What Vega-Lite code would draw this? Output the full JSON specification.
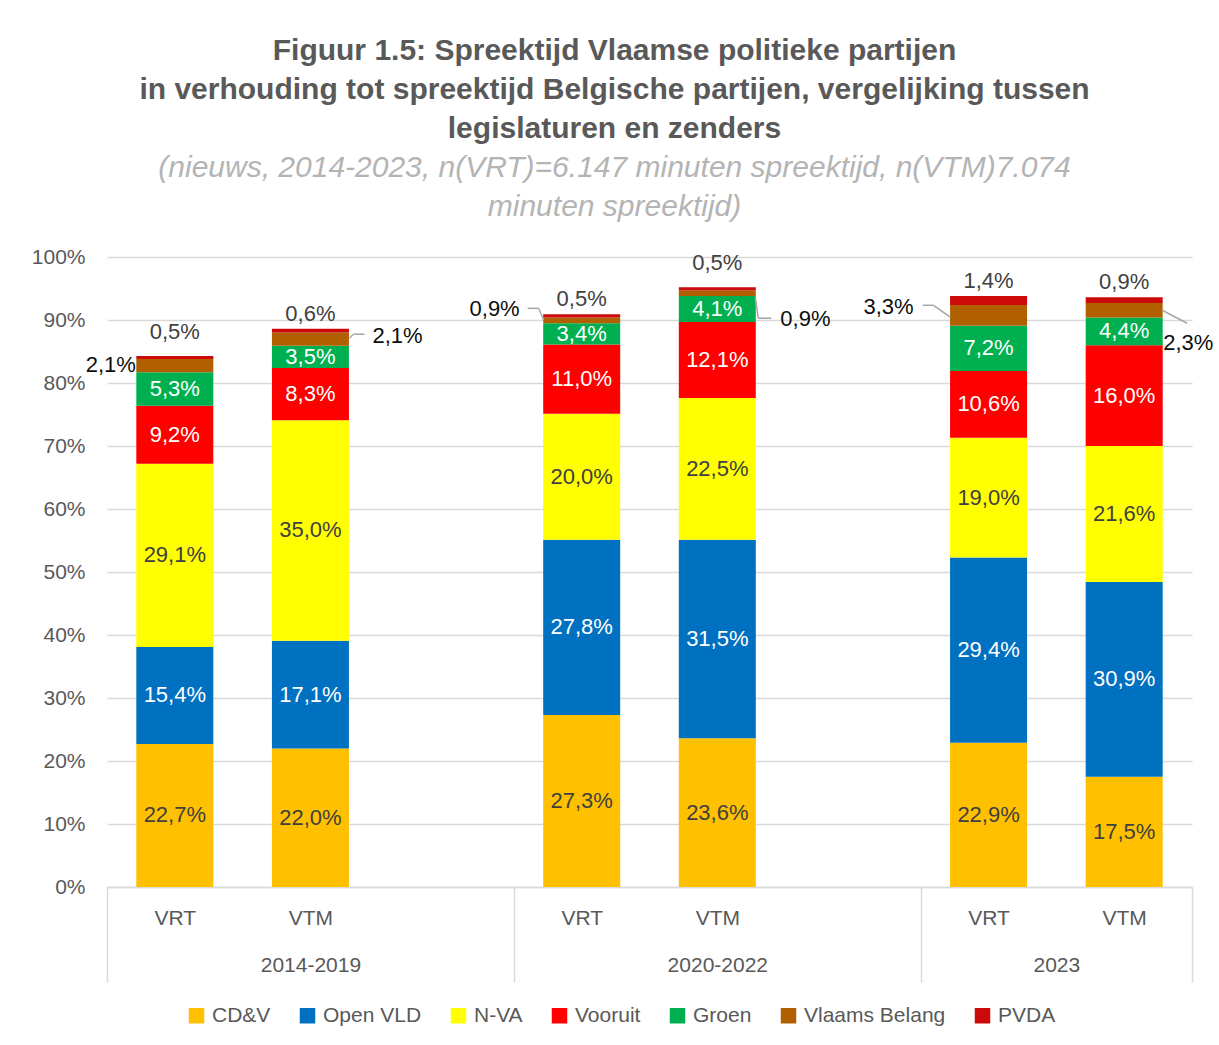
{
  "$schema": "https://vega.github.io/schema/vega-lite/v6.json",
  "autosize": {"type": "none"},
  "width": 1085,
  "height": 630,
  "padding": {"left": 107, "top": 257, "right": 27, "bottom": 158},
  "background": "white",
  "config": {
    "view": {"stroke": null},
    "font": "Liberation Sans",
    "scale": {"continuousPadding": 0},
    "text": {"font": "Liberation Sans", "fontSize": 22, "baseline": "middle"}
  },
  "title": {
    "text": ["Figuur 1.5: Spreektijd Vlaamse politieke partijen", "in verhouding tot spreektijd Belgische partijen, vergelijking tussen", "legislaturen en zenders"],
    "subtitle": ["(nieuws, 2014-2023, n(VRT)=6.147 minuten spreektijd, n(VTM)7.074", "minuten spreektijd)"],
    "anchor": "middle",
    "dx": -35,
    "offset": 24,
    "font": "Liberation Sans",
    "fontSize": 30,
    "fontWeight": "bold",
    "color": "#595959",
    "lineHeight": 39,
    "subtitleFont": "Liberation Sans",
    "subtitleFontSize": 30,
    "subtitleFontStyle": "italic",
    "subtitleColor": "#b4b4b4",
    "subtitleLineHeight": 39,
    "subtitlePadding": 9
  },
  "data": {
    "values": [
      {"period": "2014-2019", "channel": "VRT", "party": "CD&V", "pct": 22.7},
      {"period": "2014-2019", "channel": "VRT", "party": "Open VLD", "pct": 15.4},
      {"period": "2014-2019", "channel": "VRT", "party": "N-VA", "pct": 29.1},
      {"period": "2014-2019", "channel": "VRT", "party": "Vooruit", "pct": 9.2},
      {"period": "2014-2019", "channel": "VRT", "party": "Groen", "pct": 5.3},
      {"period": "2014-2019", "channel": "VRT", "party": "Vlaams Belang", "pct": 2.1},
      {"period": "2014-2019", "channel": "VRT", "party": "PVDA", "pct": 0.5},
      {"period": "2014-2019", "channel": "VTM", "party": "CD&V", "pct": 22.0},
      {"period": "2014-2019", "channel": "VTM", "party": "Open VLD", "pct": 17.1},
      {"period": "2014-2019", "channel": "VTM", "party": "N-VA", "pct": 35.0},
      {"period": "2014-2019", "channel": "VTM", "party": "Vooruit", "pct": 8.3},
      {"period": "2014-2019", "channel": "VTM", "party": "Groen", "pct": 3.5},
      {"period": "2014-2019", "channel": "VTM", "party": "Vlaams Belang", "pct": 2.1},
      {"period": "2014-2019", "channel": "VTM", "party": "PVDA", "pct": 0.6},
      {"period": "2020-2022", "channel": "VRT", "party": "CD&V", "pct": 27.3},
      {"period": "2020-2022", "channel": "VRT", "party": "Open VLD", "pct": 27.8},
      {"period": "2020-2022", "channel": "VRT", "party": "N-VA", "pct": 20.0},
      {"period": "2020-2022", "channel": "VRT", "party": "Vooruit", "pct": 11.0},
      {"period": "2020-2022", "channel": "VRT", "party": "Groen", "pct": 3.4},
      {"period": "2020-2022", "channel": "VRT", "party": "Vlaams Belang", "pct": 0.9},
      {"period": "2020-2022", "channel": "VRT", "party": "PVDA", "pct": 0.5},
      {"period": "2020-2022", "channel": "VTM", "party": "CD&V", "pct": 23.6},
      {"period": "2020-2022", "channel": "VTM", "party": "Open VLD", "pct": 31.5},
      {"period": "2020-2022", "channel": "VTM", "party": "N-VA", "pct": 22.5},
      {"period": "2020-2022", "channel": "VTM", "party": "Vooruit", "pct": 12.1},
      {"period": "2020-2022", "channel": "VTM", "party": "Groen", "pct": 4.1},
      {"period": "2020-2022", "channel": "VTM", "party": "Vlaams Belang", "pct": 0.9},
      {"period": "2020-2022", "channel": "VTM", "party": "PVDA", "pct": 0.5},
      {"period": "2023", "channel": "VRT", "party": "CD&V", "pct": 22.9},
      {"period": "2023", "channel": "VRT", "party": "Open VLD", "pct": 29.4},
      {"period": "2023", "channel": "VRT", "party": "N-VA", "pct": 19.0},
      {"period": "2023", "channel": "VRT", "party": "Vooruit", "pct": 10.6},
      {"period": "2023", "channel": "VRT", "party": "Groen", "pct": 7.2},
      {"period": "2023", "channel": "VRT", "party": "Vlaams Belang", "pct": 3.3},
      {"period": "2023", "channel": "VRT", "party": "PVDA", "pct": 1.4},
      {"period": "2023", "channel": "VTM", "party": "CD&V", "pct": 17.5},
      {"period": "2023", "channel": "VTM", "party": "Open VLD", "pct": 30.9},
      {"period": "2023", "channel": "VTM", "party": "N-VA", "pct": 21.6},
      {"period": "2023", "channel": "VTM", "party": "Vooruit", "pct": 16.0},
      {"period": "2023", "channel": "VTM", "party": "Groen", "pct": 4.4},
      {"period": "2023", "channel": "VTM", "party": "Vlaams Belang", "pct": 2.3},
      {"period": "2023", "channel": "VTM", "party": "PVDA", "pct": 0.9}
    ]
  },
  "transform": [
    {"calculate": "(datum.period === '2014-2019' ? 0 : datum.period === '2020-2022' ? 3 : 6) + (datum.channel === 'VTM' ? 1 : 0) + 0.5", "as": "slot"},
    {"calculate": "indexof(['CD&V','Open VLD','N-VA','Vooruit','Groen','Vlaams Belang','PVDA'], datum.party)", "as": "ord"},
    {"stack": "pct", "groupby": ["period", "channel"], "sort": [{"field": "ord", "order": "ascending"}], "as": ["y0", "y1"]},
    {"calculate": "(datum.y0 + datum.y1) / 2", "as": "mid"},
    {"calculate": "replace(format(datum.pct, '.1f'), '.', ',') + '%'", "as": "label"},
    {"calculate": "datum.period + ' ' + datum.channel", "as": "key"}
  ],
  "resolve": {"axis": {"x": "independent"}},
  "layer": [
    {
      "mark": {"type": "bar", "width": 77},
      "encoding": {
        "x": {"field": "slot", "type": "quantitative", "scale": {"domain": [0, 8], "nice": false, "zero": false, "padding": 0},
          "axis": {"orient": "bottom", "title": null, "values": [0.5, 1.5, 3.5, 4.5, 6.5, 7.5],
            "labelExpr": "indexof([1.5, 4.5, 7.5], datum.value) >= 0 ? 'VTM' : 'VRT'",
            "ticks": false, "grid": false, "domain": true, "domainColor": "#d9d9d9", "domainWidth": 1.5,
            "labelPadding": 20, "labelFontSize": 21, "labelColor": "#595959", "labelFont": "Liberation Sans", "labelFlush": false, "labelOverlap": false}},
        "y": {"field": "y1", "type": "quantitative", "scale": {"domain": [0, 100], "nice": false},
          "axis": {"title": null, "values": [0, 10, 20, 30, 40, 50, 60, 70, 80, 90, 100], "labelExpr": "datum.value + '%'",
            "grid": true, "gridColor": "#d9d9d9", "gridWidth": 1.5, "domain": false, "ticks": false,
            "labelPadding": 22, "labelFontSize": 21, "labelColor": "#595959", "labelFont": "Liberation Sans"}},
        "y2": {"field": "y0"},
        "color": {"field": "party", "type": "nominal",
          "scale": {"domain": ["CD&V", "Open VLD", "N-VA", "Vooruit", "Groen", "Vlaams Belang", "PVDA"],
            "range": ["#FFC000", "#0070C0", "#FFFF00", "#FF0000", "#00B050", "#B06000", "#CC0A0A"]},
          "legend": {"orient": "none", "legendX": 79, "legendY": 748, "direction": "horizontal", "title": null,
            "symbolType": "square", "symbolSize": 240, "symbolStrokeWidth": 0, "labelFontSize": 21, "labelColor": "#595959",
            "labelFont": "Liberation Sans", "columnPadding": 26, "labelOffset": 5}}
      }
    },
    {
      "transform": [{"filter": "datum.party === 'CD&V' || datum.party === 'N-VA'"}],
      "mark": {"type": "text", "color": "#404040"},
      "encoding": {
        "x": {"field": "slot", "type": "quantitative", "scale": {"domain": [0, 8], "nice": false, "zero": false, "padding": 0},
          "axis": {"orient": "bottom", "title": null, "values": [0, 3, 6, 8], "labels": false, "ticks": true, "tickSize": 95,
            "tickColor": "#d9d9d9", "tickWidth": 1.5, "domain": false, "grid": false}},
        "y": {"field": "mid", "type": "quantitative", "scale": {"domain": [0, 100], "nice": false}, "title": null},
        "text": {"field": "label"}
      }
    },
    {
      "transform": [{"filter": "datum.party === 'Open VLD' || datum.party === 'Vooruit' || datum.party === 'Groen'"}],
      "mark": {"type": "text", "color": "white"},
      "encoding": {
        "x": {"field": "slot", "type": "quantitative", "scale": {"domain": [0, 8], "nice": false, "zero": false, "padding": 0},
          "axis": {"orient": "bottom", "title": null, "values": [1.5, 4.5, 7],
            "labelExpr": "datum.value === 1.5 ? '2014-2019' : datum.value === 4.5 ? '2020-2022' : '2023'",
            "ticks": false, "domain": false, "grid": false, "labelPadding": 67, "labelFontSize": 21, "labelColor": "#595959",
            "labelFont": "Liberation Sans", "labelFlush": false, "labelOverlap": false}},
        "y": {"field": "mid", "type": "quantitative", "scale": {"domain": [0, 100], "nice": false}, "title": null},
        "text": {"field": "label"}
      }
    },
    {
      "transform": [{"filter": "datum.party === 'PVDA' && (datum.key === '2014-2019 VRT' || datum.key === '2020-2022 VTM')"}],
      "mark": {"type": "text", "color": "#404040", "dy": -24},
      "encoding": {
        "x": {"field": "slot", "type": "quantitative", "scale": {"domain": [0, 8], "nice": false, "zero": false, "padding": 0}, "axis": null},
        "y": {"field": "y1", "type": "quantitative", "scale": {"domain": [0, 100], "nice": false}, "title": null},
        "text": {"field": "label"}
      }
    },
    {
      "transform": [{"filter": "datum.party === 'PVDA' && datum.key !== '2014-2019 VRT' && datum.key !== '2020-2022 VTM'"}],
      "mark": {"type": "text", "color": "#404040", "dy": -15},
      "encoding": {
        "x": {"field": "slot", "type": "quantitative", "scale": {"domain": [0, 8], "nice": false, "zero": false, "padding": 0}, "axis": null},
        "y": {"field": "y1", "type": "quantitative", "scale": {"domain": [0, 100], "nice": false}, "title": null},
        "text": {"field": "label"}
      }
    },
    {
      "transform": [{"filter": "datum.party === 'Vlaams Belang' && datum.key === '2014-2019 VRT'"}],
      "mark": {"type": "text", "color": "#0d0d0d", "align": "right", "dx": -39, "dy": -1},
      "encoding": {
        "x": {"field": "slot", "type": "quantitative", "scale": {"domain": [0, 8], "nice": false, "zero": false, "padding": 0}, "axis": null},
        "y": {"field": "mid", "type": "quantitative", "scale": {"domain": [0, 100], "nice": false}, "title": null},
        "text": {"field": "label"}
      }
    },
    {
      "transform": [{"filter": "datum.party === 'Vlaams Belang' && datum.key === '2014-2019 VTM'"}],
      "mark": {"type": "text", "color": "#0d0d0d", "align": "left", "dx": 62, "dy": -3},
      "encoding": {
        "x": {"field": "slot", "type": "quantitative", "scale": {"domain": [0, 8], "nice": false, "zero": false, "padding": 0}, "axis": null},
        "y": {"field": "mid", "type": "quantitative", "scale": {"domain": [0, 100], "nice": false}, "title": null},
        "text": {"field": "label"}
      }
    },
    {
      "transform": [{"filter": "datum.party === 'Vlaams Belang' && datum.key === '2020-2022 VRT'"}],
      "mark": {"type": "text", "color": "#0d0d0d", "align": "right", "dx": -62, "dy": -11},
      "encoding": {
        "x": {"field": "slot", "type": "quantitative", "scale": {"domain": [0, 8], "nice": false, "zero": false, "padding": 0}, "axis": null},
        "y": {"field": "mid", "type": "quantitative", "scale": {"domain": [0, 100], "nice": false}, "title": null},
        "text": {"field": "label"}
      }
    },
    {
      "transform": [{"filter": "datum.party === 'Vlaams Belang' && datum.key === '2020-2022 VTM'"}],
      "mark": {"type": "text", "color": "#0d0d0d", "align": "left", "dx": 63, "dy": 26},
      "encoding": {
        "x": {"field": "slot", "type": "quantitative", "scale": {"domain": [0, 8], "nice": false, "zero": false, "padding": 0}, "axis": null},
        "y": {"field": "mid", "type": "quantitative", "scale": {"domain": [0, 100], "nice": false}, "title": null},
        "text": {"field": "label"}
      }
    },
    {
      "transform": [{"filter": "datum.party === 'Vlaams Belang' && datum.key === '2023 VRT'"}],
      "mark": {"type": "text", "color": "#0d0d0d", "align": "right", "dx": -75, "dy": -8},
      "encoding": {
        "x": {"field": "slot", "type": "quantitative", "scale": {"domain": [0, 8], "nice": false, "zero": false, "padding": 0}, "axis": null},
        "y": {"field": "mid", "type": "quantitative", "scale": {"domain": [0, 100], "nice": false}, "title": null},
        "text": {"field": "label"}
      }
    },
    {
      "transform": [{"filter": "datum.party === 'Vlaams Belang' && datum.key === '2023 VTM'"}],
      "mark": {"type": "text", "color": "#0d0d0d", "align": "left", "dx": 39, "dy": 33},
      "encoding": {
        "x": {"field": "slot", "type": "quantitative", "scale": {"domain": [0, 8], "nice": false, "zero": false, "padding": 0}, "axis": null},
        "y": {"field": "mid", "type": "quantitative", "scale": {"domain": [0, 100], "nice": false}, "title": null},
        "text": {"field": "label"}
      }
    },
    {
      "transform": [{"filter": "datum.party === 'Vlaams Belang' && datum.key === '2014-2019 VTM'"}],
      "mark": {"type": "rule", "color": "#a6a6a6", "strokeWidth": 1.5, "xOffset": 39, "x2Offset": 43, "yOffset": -1, "y2Offset": -5},
      "encoding": {
        "x": {"field": "slot", "type": "quantitative", "scale": {"domain": [0, 8], "nice": false, "zero": false, "padding": 0}, "axis": null},
        "x2": {"field": "slot"},
        "y": {"field": "mid", "type": "quantitative", "scale": {"domain": [0, 100], "nice": false}, "title": null},
        "y2": {"field": "mid"}
      }
    },
    {
      "transform": [{"filter": "datum.party === 'Vlaams Belang' && datum.key === '2014-2019 VTM'"}],
      "mark": {"type": "rule", "color": "#a6a6a6", "strokeWidth": 1.5, "xOffset": 43, "x2Offset": 54, "yOffset": -5, "y2Offset": -5},
      "encoding": {
        "x": {"field": "slot", "type": "quantitative", "scale": {"domain": [0, 8], "nice": false, "zero": false, "padding": 0}, "axis": null},
        "x2": {"field": "slot"},
        "y": {"field": "mid", "type": "quantitative", "scale": {"domain": [0, 100], "nice": false}, "title": null},
        "y2": {"field": "mid"}
      }
    },
    {
      "transform": [{"filter": "datum.party === 'Vlaams Belang' && datum.key === '2020-2022 VRT'"}],
      "mark": {"type": "rule", "color": "#a6a6a6", "strokeWidth": 1.5, "xOffset": -54, "x2Offset": -43, "yOffset": -12, "y2Offset": -12},
      "encoding": {
        "x": {"field": "slot", "type": "quantitative", "scale": {"domain": [0, 8], "nice": false, "zero": false, "padding": 0}, "axis": null},
        "x2": {"field": "slot"},
        "y": {"field": "mid", "type": "quantitative", "scale": {"domain": [0, 100], "nice": false}, "title": null},
        "y2": {"field": "mid"}
      }
    },
    {
      "transform": [{"filter": "datum.party === 'Vlaams Belang' && datum.key === '2020-2022 VRT'"}],
      "mark": {"type": "rule", "color": "#a6a6a6", "strokeWidth": 1.5, "xOffset": -43, "x2Offset": -38, "yOffset": -12, "y2Offset": 0},
      "encoding": {
        "x": {"field": "slot", "type": "quantitative", "scale": {"domain": [0, 8], "nice": false, "zero": false, "padding": 0}, "axis": null},
        "x2": {"field": "slot"},
        "y": {"field": "mid", "type": "quantitative", "scale": {"domain": [0, 100], "nice": false}, "title": null},
        "y2": {"field": "mid"}
      }
    },
    {
      "transform": [{"filter": "datum.party === 'Vlaams Belang' && datum.key === '2020-2022 VTM'"}],
      "mark": {"type": "rule", "color": "#a6a6a6", "strokeWidth": 1.5, "xOffset": 38, "x2Offset": 41, "yOffset": 4, "y2Offset": 25},
      "encoding": {
        "x": {"field": "slot", "type": "quantitative", "scale": {"domain": [0, 8], "nice": false, "zero": false, "padding": 0}, "axis": null},
        "x2": {"field": "slot"},
        "y": {"field": "mid", "type": "quantitative", "scale": {"domain": [0, 100], "nice": false}, "title": null},
        "y2": {"field": "mid"}
      }
    },
    {
      "transform": [{"filter": "datum.party === 'Vlaams Belang' && datum.key === '2020-2022 VTM'"}],
      "mark": {"type": "rule", "color": "#a6a6a6", "strokeWidth": 1.5, "xOffset": 41, "x2Offset": 54, "yOffset": 25, "y2Offset": 25},
      "encoding": {
        "x": {"field": "slot", "type": "quantitative", "scale": {"domain": [0, 8], "nice": false, "zero": false, "padding": 0}, "axis": null},
        "x2": {"field": "slot"},
        "y": {"field": "mid", "type": "quantitative", "scale": {"domain": [0, 100], "nice": false}, "title": null},
        "y2": {"field": "mid"}
      }
    },
    {
      "transform": [{"filter": "datum.party === 'Vlaams Belang' && datum.key === '2023 VRT'"}],
      "mark": {"type": "rule", "color": "#a6a6a6", "strokeWidth": 1.5, "xOffset": -66, "x2Offset": -55, "yOffset": -10, "y2Offset": -10},
      "encoding": {
        "x": {"field": "slot", "type": "quantitative", "scale": {"domain": [0, 8], "nice": false, "zero": false, "padding": 0}, "axis": null},
        "x2": {"field": "slot"},
        "y": {"field": "mid", "type": "quantitative", "scale": {"domain": [0, 100], "nice": false}, "title": null},
        "y2": {"field": "mid"}
      }
    },
    {
      "transform": [{"filter": "datum.party === 'Vlaams Belang' && datum.key === '2023 VRT'"}],
      "mark": {"type": "rule", "color": "#a6a6a6", "strokeWidth": 1.5, "xOffset": -55, "x2Offset": -38, "yOffset": -10, "y2Offset": 2},
      "encoding": {
        "x": {"field": "slot", "type": "quantitative", "scale": {"domain": [0, 8], "nice": false, "zero": false, "padding": 0}, "axis": null},
        "x2": {"field": "slot"},
        "y": {"field": "mid", "type": "quantitative", "scale": {"domain": [0, 100], "nice": false}, "title": null},
        "y2": {"field": "mid"}
      }
    },
    {
      "transform": [{"filter": "datum.party === 'Vlaams Belang' && datum.key === '2023 VTM'"}],
      "mark": {"type": "rule", "color": "#a6a6a6", "strokeWidth": 1.5, "xOffset": 38, "x2Offset": 63, "yOffset": 0, "y2Offset": 13},
      "encoding": {
        "x": {"field": "slot", "type": "quantitative", "scale": {"domain": [0, 8], "nice": false, "zero": false, "padding": 0}, "axis": null},
        "x2": {"field": "slot"},
        "y": {"field": "mid", "type": "quantitative", "scale": {"domain": [0, 100], "nice": false}, "title": null},
        "y2": {"field": "mid"}
      }
    }
  ]
}
